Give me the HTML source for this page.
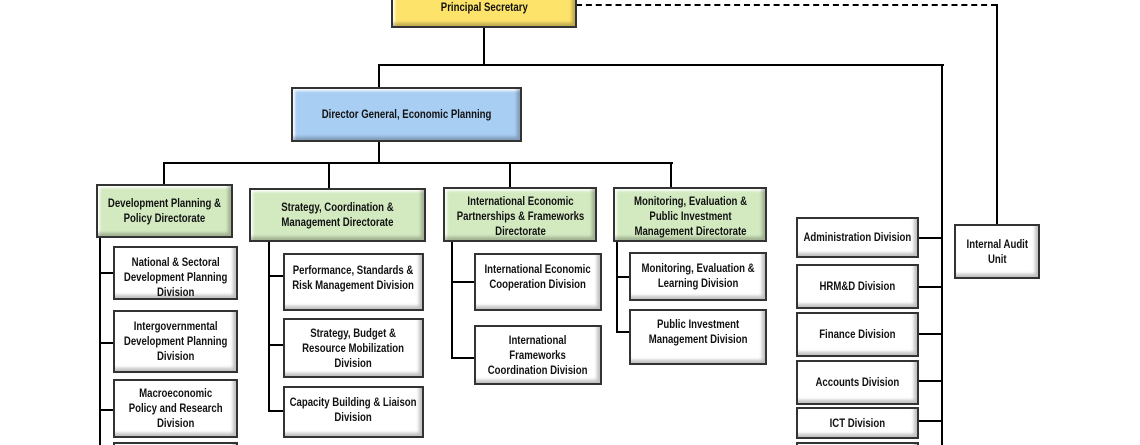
<!DOCTYPE html>
<html><head><meta charset="utf-8"><style>
html,body{margin:0;width:1140px;height:445px;overflow:hidden}
body{background:#fff;position:relative;font-family:"Liberation Sans Narrow","Liberation Sans",sans-serif;}
.b{position:absolute;box-sizing:border-box;border:2px solid #333;background:#fff;display:flex;align-items:flex-start;justify-content:center;text-align:center;font-weight:bold;font-size:12px;line-height:15px;color:#111;box-shadow:inset -3px -3px 3px rgba(0,0,0,.25),inset 2px 2px 2px rgba(255,255,255,.9);overflow:hidden;padding-top:6px}
.b>span{display:block;width:130%;flex:none;transform:scaleX(0.8);white-space:nowrap}
.c{align-items:center;padding-top:0}
.g{background:#d3eac1}
.y{background:#fde36a}
.bl{background:#a9cef3}
.h{position:absolute;height:2px;background:#000}
.v{position:absolute;width:2px;background:#000}
</style></head><body>
<div style="position:absolute;left:576px;top:4px;width:421px;border-top:2px dashed #000"></div>
<div class="v" style="left:996px;top:4px;height:222px"></div>
<div class="v" style="left:483px;top:26px;height:40px"></div>
<div class="h" style="left:378px;top:64px;width:566px"></div>
<div class="v" style="left:378px;top:64px;height:25px"></div>
<div class="v" style="left:941px;top:64px;height:381px"></div>
<div class="v" style="left:378px;top:140px;height:24px"></div>
<div class="h" style="left:163px;top:162px;width:510px"></div>
<div class="v" style="left:163px;top:162px;height:24px"></div>
<div class="v" style="left:328px;top:162px;height:28px"></div>
<div class="v" style="left:509px;top:162px;height:27px"></div>
<div class="v" style="left:670px;top:162px;height:27px"></div>
<div class="v" style="left:99px;top:236px;height:209px"></div>
<div class="h" style="left:99px;top:272px;width:16px"></div>
<div class="h" style="left:99px;top:342px;width:16px"></div>
<div class="h" style="left:99px;top:409px;width:16px"></div>
<div class="v" style="left:268px;top:240px;height:172px"></div>
<div class="h" style="left:268px;top:275px;width:17px"></div>
<div class="h" style="left:268px;top:344px;width:17px"></div>
<div class="h" style="left:268px;top:410px;width:17px"></div>
<div class="v" style="left:451px;top:240px;height:119px"></div>
<div class="h" style="left:451px;top:281px;width:25px"></div>
<div class="h" style="left:451px;top:357px;width:25px"></div>
<div class="v" style="left:616px;top:240px;height:93px"></div>
<div class="h" style="left:616px;top:276px;width:15px"></div>
<div class="h" style="left:616px;top:331px;width:15px"></div>
<div class="h" style="left:917px;top:237px;width:25px"></div>
<div class="h" style="left:917px;top:286px;width:25px"></div>
<div class="h" style="left:917px;top:333px;width:25px"></div>
<div class="h" style="left:917px;top:380px;width:25px"></div>
<div class="h" style="left:917px;top:420px;width:25px"></div>

<div class="b y c" style="left:391px;top:-20px;width:186px;height:48px;align-items:flex-end;padding-bottom:11px"><span>Principal Secretary</span></div>
<div class="b bl c" style="left:291px;top:87px;width:231px;height:55px"><span>Director General, Economic Planning</span></div>
<div class="b g c" style="left:96px;top:184px;width:137px;height:54px"><span>Development Planning &amp;<br>Policy Directorate</span></div>
<div class="b g c" style="left:249px;top:188px;width:177px;height:54px"><span>Strategy, Coordination &amp;<br>Management Directorate</span></div>
<div class="b g" style="left:443px;top:187px;width:154px;height:55px;padding-top:5px"><span>International Economic<br>Partnerships &amp; Frameworks<br>Directorate</span></div>
<div class="b g" style="left:613px;top:187px;width:154px;height:55px;padding-top:5px"><span>Monitoring, Evaluation &amp;<br>Public Investment<br>Management Directorate</span></div>

<div class="b" style="left:113px;top:246px;width:125px;height:54px;padding-top:7px"><span>National &amp; Sectoral<br>Development Planning<br>Division</span></div>
<div class="b c" style="left:113px;top:310px;width:125px;height:63px"><span>Intergovernmental<br>Development Planning<br>Division</span></div>
<div class="b c" style="left:113px;top:379px;width:125px;height:59px"><span>Macroeconomic<br>Policy and Research<br>Division</span></div>
<div class="b" style="left:113px;top:442px;width:125px;height:20px"></div>

<div class="b" style="left:283px;top:253px;width:141px;height:58px;padding-top:8px"><span>Performance, Standards &amp;<br>Risk Management Division</span></div>
<div class="b c" style="left:283px;top:318px;width:141px;height:60px"><span>Strategy, Budget &amp;<br>Resource Mobilization<br>Division</span></div>
<div class="b" style="left:283px;top:386px;width:141px;height:52px;padding-top:7px"><span>Capacity Building &amp; Liaison<br>Division</span></div>

<div class="b" style="left:474px;top:253px;width:128px;height:58px;padding-top:7px"><span>International Economic<br>Cooperation Division</span></div>
<div class="b c" style="left:474px;top:325px;width:128px;height:60px"><span>International<br>Frameworks<br>Coordination Division</span></div>

<div class="b" style="left:629px;top:252px;width:138px;height:49px;padding-top:7px"><span>Monitoring, Evaluation &amp;<br>Learning Division</span></div>
<div class="b" style="left:629px;top:309px;width:138px;height:56px;padding-top:6px"><span>Public Investment<br>Management Division</span></div>

<div class="b c" style="left:796px;top:217px;width:123px;height:41px"><span>Administration Division</span></div>
<div class="b c" style="left:796px;top:264px;width:123px;height:45px"><span>HRM&amp;D Division</span></div>
<div class="b c" style="left:796px;top:312px;width:123px;height:45px"><span>Finance Division</span></div>
<div class="b c" style="left:796px;top:360px;width:123px;height:45px"><span>Accounts Division</span></div>
<div class="b c" style="left:796px;top:407px;width:123px;height:32px"><span>ICT Division</span></div>
<div class="b" style="left:796px;top:442px;width:123px;height:20px"></div>

<div class="b c" style="left:954px;top:224px;width:86px;height:55px"><span>Internal Audit<br>Unit</span></div>
</body></html>
